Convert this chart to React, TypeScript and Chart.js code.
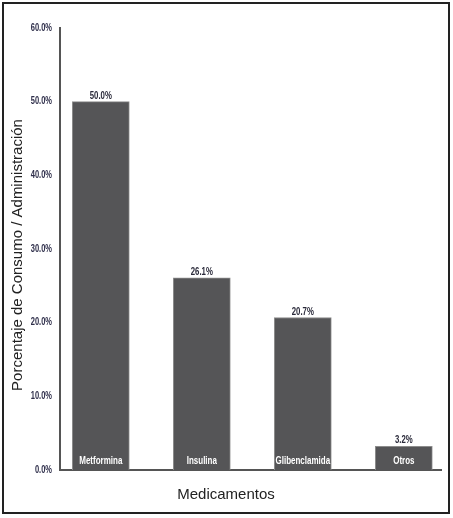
import React, { useEffect, useRef } from "react";
import { Chart, registerables } from "chart.js";

Chart.register(...registerables);

const categories = ["Metformina", "Insulina", "Glibenclamida", "Otros"];
const positions = [1, 2, 3, 4];
const values = [50.0, 26.1, 20.7, 3.2];
const yTicks = [0, 10, 20, 30, 40, 50, 60];
const xTitle = "Medicamentos";
const yTitle = "Porcentaje de Consumo / Administración";

const BOLD = 'bold 10px "Liberation Sans", Arial, sans-serif';

function narrowText(ctx: any, text: string, x: number, y: number, sx: number, align: string) {
  ctx.save();
  ctx.translate(x, y);
  ctx.scale(sx, 1);
  ctx.textAlign = align;
  ctx.fillText(text, 0, 0);
  ctx.restore();
}

const decorPlugin = {
  id: "decor",
  beforeDraw(chart: any) {
    const ctx = chart.ctx;
    ctx.save();
    ctx.fillStyle = "#ffffff";
    ctx.fillRect(0, 0, chart.width, chart.height);
    ctx.strokeStyle = "#222222";
    ctx.lineWidth = 2;
    ctx.strokeRect(3, 3, 446, 510);
    ctx.restore();
  },
  afterDatasetsDraw(chart: any) {
    const ctx = chart.ctx;
    const meta = chart.getDatasetMeta(0);
    const yScale = chart.scales.y;
    const area = chart.chartArea;
    ctx.save();
    ctx.font = BOLD;
    // y tick labels
    ctx.fillStyle = "#2e2e4a";
    ctx.textBaseline = "middle";
    yTicks.forEach((t) => {
      narrowText(ctx, t.toFixed(1) + "%", area.left - 8, yScale.getPixelForValue(t), 0.75, "right");
    });
    meta.data.forEach((bar: any, i: number) => {
      const v = values[i];
      ctx.fillStyle = "#2a2a3a";
      ctx.textBaseline = "alphabetic";
      narrowText(ctx, v.toFixed(1) + "%", bar.x, yScale.getPixelForValue(v) - 3, 0.78, "center");
      ctx.fillStyle = "#ffffff";
      ctx.textBaseline = "middle";
      narrowText(ctx, categories[i], bar.x, area.bottom - 9, 0.8, "center");
    });
    // titles
    ctx.fillStyle = "#222222";
    ctx.font = '15px "Liberation Sans", Arial, sans-serif';
    ctx.textAlign = "center";
    ctx.textBaseline = "middle";
    ctx.fillText(xTitle, 226, 495);
    ctx.translate(18, 255);
    ctx.rotate(-Math.PI / 2);
    ctx.fillText(yTitle, 0, 0);
    ctx.restore();
  },
};

export default function App() {
  const ref = useRef<HTMLCanvasElement | null>(null);
  useEffect(() => {
    if (!ref.current) return;
    const chart = new Chart(ref.current, {
      type: "bar",
      data: {
        datasets: [
          {
            data: positions.map((x, i) => ({ x, y: values[i] })),
            backgroundColor: "#555557",
            borderColor: "#8c8c8c",
            borderWidth: 1,
            barThickness: 57,
          },
        ],
      },
      options: {
        animation: false,
        responsive: false,
        devicePixelRatio: 1,
        layout: { padding: { left: 0, top: 28, right: 12, bottom: 48 } },
        plugins: { legend: { display: false }, tooltip: { enabled: false } },
        scales: {
          x: {
            type: "linear",
            offset: false,
            min: 0.596,
            max: 4.368,
            grid: { display: false, drawTicks: false, offset: false },
            border: { display: true, color: "#555555", width: 2 },
            ticks: { display: false, stepSize: 1, includeBounds: false },
            afterFit(scale: any) {
              scale.height = 0;
            },
          },
          y: {
            min: 0,
            max: 60,
            grid: { display: false, drawTicks: false },
            border: { display: true, color: "#555555", width: 2 },
            afterBuildTicks(scale: any) {
              scale.ticks = yTicks.map((v) => ({ value: v }));
            },
            afterFit(scale: any) {
              scale.width = 60;
            },
            ticks: { display: false },
          },
        },
      },
      plugins: [decorPlugin],
    });
    return () => chart.destroy();
  }, []);
  return (
    <div style={{ position: "fixed", left: 0, top: 0, width: 453, height: 518 }}>
      <canvas ref={ref} width={453} height={518} style={{ width: 453, height: 518 }} />
    </div>
  );
}
